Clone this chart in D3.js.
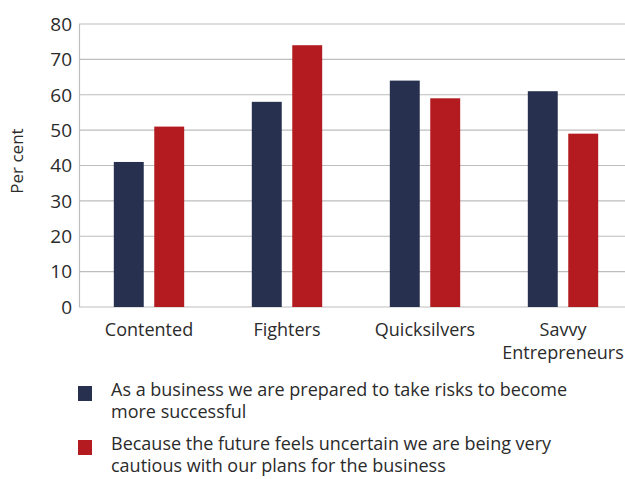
<!DOCTYPE html>
<html><head><meta charset="utf-8">
<script src="https://cdn.jsdelivr.net/npm/d3@7"></script>
<style>body{margin:0;background:#fff}svg{display:block}text{font-family:"Open Sans",sans-serif;fill:#2b2b2b}</style>
</head><body>
<svg id="c" width="625" height="479"></svg>
<script>
const categories = ["Contented", "Fighters", "Quicksilvers", "Savvy Entrepreneurs"];
const categoryLines = [["Contented"], ["Fighters"], ["Quicksilvers"], ["Savvy", "Entrepreneurs"]];
const seriesNames = ["As a business we are prepared to take risks to become more successful",
  "Because the future feels uncertain we are being very cautious with our plans for the business"];
const legendLines = [["As a business we are prepared to take risks to become", "more successful"],
  ["Because the future feels uncertain we are being very", "cautious with our plans for the business"]];
const riskTakers = [41, 58, 64, 61];
const cautious = [51, 74, 59, 49];
const yTicks = [0, 10, 20, 30, 40, 50, 60, 70, 80];
const colors = ["#283050", "#B31B20"];

const svg = d3.select("#c");
const y = d3.scaleLinear().domain([0, 80]).range([307, 24]);
const x = d3.scaleBand().domain(categories).range([80, 632]).paddingInner(0.49).paddingOuter(0.245);
const xs = d3.scaleBand().domain([0, 1]).range([0, x.bandwidth()]).paddingInner(0.26);

// gridlines
svg.append("g").selectAll("line").data(yTicks).join("line")
  .attr("x1", 79).attr("x2", 625).attr("y1", d => y(d)).attr("y2", d => y(d))
  .attr("stroke", "#bdbdbd").attr("stroke-width", 1.2);
svg.append("line").attr("x1", 79.5).attr("x2", 79.5).attr("y1", y(80)).attr("y2", y(0))
  .attr("stroke", "#bdbdbd").attr("stroke-width", 1.2);

// y tick labels
svg.append("g").selectAll("text").data(yTicks).join("text")
  .attr("x", 72).attr("y", d => y(d)).attr("dy", "0.36em").attr("text-anchor", "end")
  .attr("font-size", 19).text(d => d);

svg.append("text").attr("transform", "translate(23,161) rotate(-90)")
  .attr("text-anchor", "middle").attr("font-size", 17).text("Per cent");

// bars
const series = [riskTakers, cautious];
series.forEach((vals, si) => {
  svg.append("g").selectAll("rect").data(categories).join("rect")
    .attr("x", (c) => x(c) + xs(si)).attr("width", xs.bandwidth())
    .attr("y", (c, i) => y(vals[i])).attr("height", (c, i) => y(0) - y(vals[i]))
    .attr("fill", colors[si]);
});

// x labels
categories.forEach((c, i) => {
  const t = svg.append("text").attr("text-anchor", "middle").attr("font-size", 18)
    .attr("x", x(c) + x.bandwidth() / 2);
  categoryLines[i].forEach((l, j) => t.append("tspan").attr("x", x(c) + x.bandwidth() / 2)
    .attr("y", 336 + j * 23).text(l));
});

// legend
legendLines.forEach((lines, i) => {
  const top = 386 + i * 54;
  svg.append("rect").attr("x", 78).attr("y", top).attr("width", 14).attr("height", 15).attr("fill", colors[i]);
  const t = svg.append("text").attr("font-size", 18);
  lines.forEach((l, j) => t.append("tspan").attr("x", 111).attr("y", top + 10 + j * 22).text(l));
});
</script>
</body></html>
